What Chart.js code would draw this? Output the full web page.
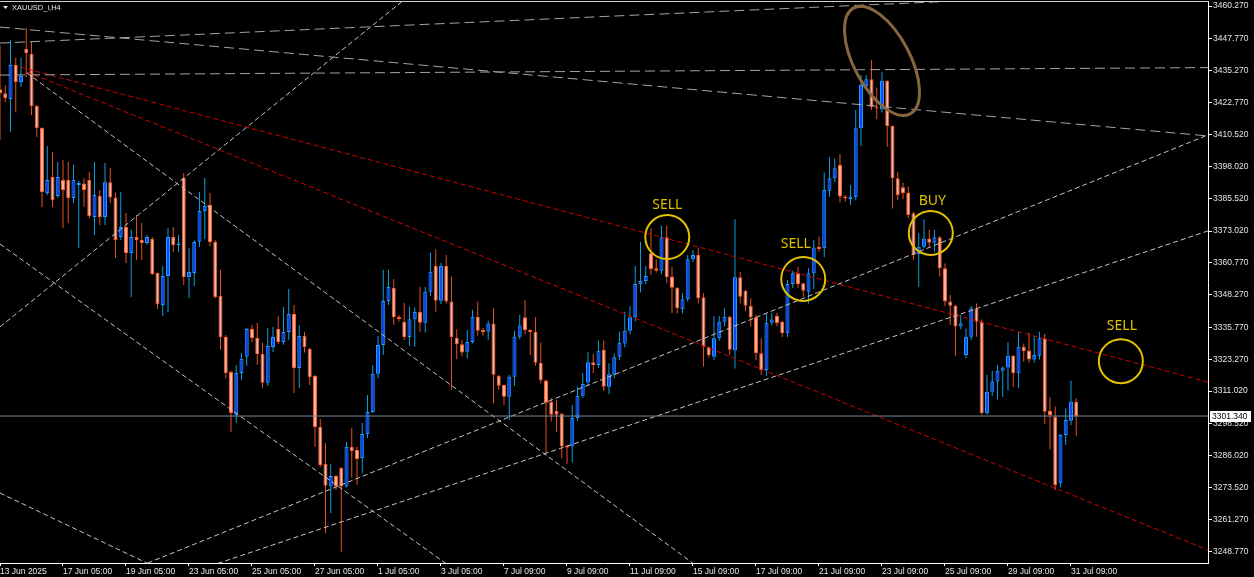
<!DOCTYPE html>
<html>
<head>
<meta charset="utf-8">
<title>XAUUSD_i,H4</title>
<script src="https://cdn.jsdelivr.net/npm/chart.js@4.4.1/dist/chart.umd.min.js"></script>
<style>
  html, body { margin: 0; padding: 0; background: #000; }
  #chart { display: block; }
</style>
</head>
<body>
<canvas id="chart" width="1254" height="577"></canvas>
<script>
// H4 candles, bar index 0 = 13 Jun 2025
const openPrices = [
  3428.0, 3426.5, 3424.2, 3437.4, 3430.8, 3443.6, 3441.7, 3421.5, 3413.0, 3387.8,
  3394.0, 3386.6, 3392.8, 3392.8, 3385.9, 3390.9, 3391.5, 3392.8, 3378.5, 3386.6,
  3378.5, 3392.0, 3386.0, 3370.7, 3374.6, 3364.5, 3370.7, 3369.6, 3368.4, 3370.0,
  3356.8, 3344.4, 3355.6, 3370.7, 3367.6, 3393.6, 3355.2, 3356.8, 3368.9, 3380.8,
  3383.2, 3368.8, 3347.9, 3332.0, 3318.4, 3301.8, 3318.0, 3324.3, 3335.1, 3331.6,
  3325.4, 3314.2, 3328.1, 3335.1, 3330.0, 3333.9, 3340.9, 3320.0, 3332.4, 3327.4,
  3316.9, 3297.1, 3282.8, 3274.0, 3278.1, 3281.2, 3274.0, 3289.4, 3288.2, 3285.1,
  3294.4, 3302.9, 3317.7, 3328.9, 3345.9, 3351.0, 3339.7, 3337.9, 3332.0, 3338.9,
  3341.7, 3337.5, 3349.5, 3359.5, 3346.0, 3359.5, 3345.7, 3331.7, 3329.2, 3326.3,
  3330.0, 3339.8, 3334.7, 3334.0, 3337.2, 3316.9, 3313.4, 3308.8, 3316.6, 3332.1,
  3339.6, 3334.7, 3334.0, 3322.0, 3315.1, 3306.8, 3303.3, 3302.2, 3289.7, 3289.5,
  3300.6, 3309.2, 3314.3, 3322.2, 3321.1, 3327.0, 3312.7, 3317.3, 3324.3, 3329.5,
  3334.4, 3339.6, 3352.5, 3353.7, 3364.4, 3358.6, 3357.7, 3370.6, 3355.4, 3351.1,
  3342.7, 3346.6, 3362.1, 3363.8, 3347.4, 3328.0, 3324.3, 3331.5, 3337.9, 3339.8,
  3326.7, 3355.1, 3349.9, 3344.0, 3339.6, 3325.7, 3319.2, 3337.5, 3340.1, 3337.9,
  3333.4, 3352.5, 3356.7, 3352.8, 3349.5, 3356.7, 3367.0, 3366.4, 3388.7, 3393.5,
  3398.6, 3386.4, 3385.5, 3386.1, 3412.9, 3429.3, 3431.9, 3421.0, 3420.2, 3431.3,
  3413.8, 3393.5, 3390.0, 3388.0, 3379.9, 3364.1, 3367.0, 3370.2, 3368.5, 3370.6,
  3358.6, 3345.7, 3344.1, 3336.0, 3325.0, 3332.1, 3343.1, 3337.9, 3302.4, 3310.8,
  3314.7, 3318.9, 3320.2, 3324.7, 3317.9, 3328.2, 3326.7, 3323.3, 3324.7, 3331.5,
  3303.4, 3301.1, 3275.3, 3294.0, 3299.5, 3306.9
];
const highPrices = [
  3445.0, 3429.6, 3447.1, 3440.1, 3440.1, 3451.7, 3446.3, 3421.8, 3413.3, 3406.0,
  3403.7, 3399.8, 3400.6, 3399.8, 3398.7, 3392.5, 3393.5, 3396.0, 3399.8, 3389.0,
  3399.4, 3397.5, 3388.0, 3388.2, 3380.0, 3373.5, 3379.3, 3376.2, 3371.5, 3370.7,
  3357.0, 3359.5, 3374.2, 3374.6, 3371.5, 3395.5, 3366.5, 3369.5, 3388.2, 3393.6,
  3387.8, 3369.6, 3358.0, 3332.8, 3319.0, 3321.0, 3325.8, 3335.5, 3336.6, 3337.4,
  3329.7, 3335.5, 3335.9, 3340.1, 3343.6, 3350.6, 3344.4, 3336.6, 3334.0, 3327.8,
  3317.3, 3300.2, 3290.9, 3282.8, 3278.5, 3281.6, 3291.3, 3296.7, 3289.4, 3298.7,
  3309.5, 3321.1, 3332.4, 3358.0, 3358.0, 3354.5, 3340.5, 3345.2, 3343.8, 3343.4,
  3351.4, 3351.4, 3364.6, 3366.0, 3360.8, 3363.8, 3355.4, 3335.0, 3330.8, 3334.7,
  3342.5, 3345.7, 3335.5, 3338.3, 3343.1, 3317.3, 3313.6, 3317.3, 3334.4, 3340.5,
  3346.3, 3335.0, 3339.6, 3329.8, 3315.4, 3308.3, 3307.6, 3302.6, 3290.0, 3305.6,
  3312.7, 3318.0, 3326.3, 3325.4, 3330.6, 3330.6, 3321.8, 3325.6, 3334.0, 3341.8,
  3344.0, 3359.5, 3368.9, 3359.5, 3374.1, 3362.0, 3375.1, 3375.1, 3359.2, 3351.4,
  3348.9, 3363.8, 3365.7, 3366.7, 3348.9, 3328.3, 3340.1, 3340.1, 3343.1, 3340.2,
  3377.6, 3357.3, 3350.2, 3347.0, 3340.5, 3331.5, 3341.2, 3341.2, 3341.4, 3338.2,
  3354.1, 3357.7, 3359.2, 3353.0, 3358.6, 3369.6, 3370.9, 3395.7, 3401.6, 3401.2,
  3402.9, 3387.0, 3390.9, 3420.0, 3433.5, 3433.5, 3439.3, 3428.7, 3434.8, 3431.7,
  3414.0, 3396.0, 3391.8, 3390.3, 3380.5, 3372.2, 3377.6, 3373.5, 3373.5, 3371.0,
  3360.5, 3348.3, 3344.5, 3340.5, 3335.3, 3344.0, 3345.0, 3338.8, 3317.3, 3318.9,
  3321.1, 3320.5, 3329.9, 3325.0, 3334.0, 3329.5, 3333.6, 3332.4, 3334.0, 3333.1,
  3308.6, 3305.0, 3294.3, 3304.4, 3315.0, 3308.2
];
const lowPrices = [
  3408.3, 3423.0, 3411.4, 3419.2, 3428.9, 3432.7, 3418.0, 3409.5, 3382.4, 3387.0,
  3382.4, 3385.9, 3374.2, 3376.2, 3384.0, 3366.5, 3382.5, 3378.0, 3371.5, 3375.4,
  3375.4, 3384.0, 3362.6, 3369.6, 3360.7, 3347.5, 3361.8, 3361.8, 3367.7, 3356.0,
  3342.8, 3340.1, 3341.7, 3364.9, 3364.9, 3352.1, 3347.1, 3351.7, 3367.0, 3370.0,
  3367.2, 3347.0, 3327.0, 3316.0, 3295.2, 3298.7, 3315.3, 3320.8, 3330.0, 3321.2,
  3312.2, 3313.0, 3326.2, 3329.3, 3329.0, 3330.8, 3310.3, 3312.2, 3326.0, 3313.4,
  3289.4, 3281.6, 3256.0, 3263.8, 3272.7, 3248.7, 3273.6, 3277.4, 3274.7, 3279.3,
  3292.8, 3302.5, 3316.0, 3325.0, 3344.4, 3336.6, 3338.0, 3330.8, 3328.5, 3328.2,
  3334.0, 3333.7, 3348.0, 3341.8, 3344.8, 3345.0, 3311.5, 3323.4, 3324.5, 3323.7,
  3329.5, 3332.5, 3332.5, 3330.8, 3306.3, 3311.5, 3305.6, 3299.8, 3313.0, 3331.0,
  3333.0, 3325.0, 3320.8, 3314.0, 3287.0, 3299.2, 3295.3, 3285.0, 3282.8, 3283.3,
  3299.5, 3308.3, 3313.2, 3317.9, 3320.0, 3311.0, 3309.9, 3316.0, 3323.0, 3328.0,
  3333.0, 3338.0, 3349.2, 3352.5, 3356.0, 3357.0, 3356.4, 3353.0, 3341.3, 3341.1,
  3341.1, 3345.7, 3361.0, 3345.0, 3320.5, 3324.0, 3323.0, 3330.5, 3336.0, 3325.0,
  3319.8, 3345.0, 3342.0, 3336.0, 3323.0, 3317.2, 3317.0, 3336.5, 3336.0, 3332.0,
  3331.9, 3351.0, 3351.0, 3347.6, 3345.0, 3350.5, 3365.0, 3362.9, 3386.3, 3392.0,
  3384.0, 3384.5, 3383.1, 3385.0, 3406.0, 3428.5, 3420.0, 3416.4, 3419.0, 3405.7,
  3381.8, 3385.0, 3385.5, 3378.0, 3361.8, 3351.5, 3366.4, 3367.0, 3365.0, 3355.4,
  3344.0, 3336.6, 3324.6, 3335.0, 3323.7, 3330.8, 3332.1, 3301.8, 3301.8, 3309.1,
  3307.8, 3308.8, 3311.2, 3312.7, 3312.1, 3322.4, 3322.0, 3322.0, 3323.3, 3298.3,
  3288.4, 3272.7, 3273.7, 3290.1, 3297.9, 3293.6
];
const closePrices = [
  3426.5, 3424.6, 3437.4, 3430.8, 3433.1, 3442.1, 3421.5, 3413.0, 3388.2, 3392.8,
  3385.1, 3394.0, 3389.0, 3385.9, 3392.8, 3391.7, 3389.0, 3378.9, 3387.0, 3378.5,
  3392.0, 3386.0, 3369.6, 3374.6, 3364.5, 3370.7, 3369.6, 3368.4, 3370.7, 3356.4,
  3344.8, 3355.6, 3370.7, 3367.6, 3368.2, 3355.2, 3357.2, 3368.8, 3380.8, 3382.8,
  3368.8, 3347.5, 3332.0, 3318.0, 3302.5, 3318.0, 3323.5, 3335.1, 3331.6, 3325.4,
  3314.2, 3328.5, 3332.0, 3330.0, 3333.9, 3340.9, 3320.0, 3332.4, 3328.1, 3316.5,
  3297.1, 3282.4, 3274.3, 3278.1, 3274.0, 3274.0, 3289.4, 3287.8, 3284.7, 3294.4,
  3302.9, 3317.7, 3328.9, 3345.9, 3351.4, 3339.7, 3339.0, 3332.0, 3338.9, 3341.7,
  3337.5, 3349.5, 3357.3, 3346.0, 3359.5, 3345.7, 3332.0, 3329.2, 3326.0, 3330.0,
  3339.8, 3334.4, 3333.8, 3337.2, 3317.3, 3313.1, 3308.8, 3316.6, 3332.1, 3336.4,
  3334.7, 3333.9, 3322.0, 3315.3, 3306.5, 3301.8, 3301.8, 3289.5, 3289.1, 3300.6,
  3309.2, 3313.8, 3322.2, 3321.1, 3326.6, 3312.7, 3317.5, 3324.1, 3329.7, 3334.4,
  3339.6, 3352.5, 3353.7, 3355.6, 3358.2, 3357.7, 3370.6, 3355.1, 3351.1, 3343.1,
  3346.6, 3362.1, 3363.8, 3347.0, 3328.2, 3325.0, 3331.5, 3337.9, 3339.8, 3327.0,
  3355.1, 3347.6, 3344.1, 3339.5, 3325.7, 3319.2, 3337.5, 3338.8, 3337.3, 3333.4,
  3352.5, 3356.7, 3352.5, 3349.9, 3356.7, 3366.7, 3366.1, 3389.0, 3393.5, 3397.4,
  3386.4, 3385.7, 3386.4, 3412.9, 3429.7, 3431.9, 3421.0, 3420.5, 3431.3, 3413.8,
  3393.5, 3387.0, 3387.7, 3379.3, 3363.8, 3367.0, 3370.2, 3368.5, 3370.6, 3358.6,
  3345.7, 3344.1, 3336.0, 3337.3, 3332.1, 3343.1, 3337.9, 3302.4, 3310.8, 3314.7,
  3318.9, 3320.2, 3324.7, 3317.9, 3328.2, 3326.5, 3323.3, 3325.0, 3331.5, 3303.0,
  3301.7, 3274.6, 3294.0, 3299.8, 3306.9, 3301.3
];

// axis labels
const dateTickBars = [0, 12, 24, 36, 48, 60, 72, 84, 96, 108, 120, 132, 144, 156, 168, 180, 192, 204];
const dateLabels = ['13 Jun 2025', '17 Jun 05:00', '19 Jun 05:00', '23 Jun 05:00', '25 Jun 05:00',
  '27 Jun 05:00', '1 Jul 05:00', '3 Jul 05:00', '7 Jul 09:00', '9 Jul 09:00', '11 Jul 09:00',
  '15 Jul 09:00', '17 Jul 09:00', '21 Jul 09:00', '23 Jul 09:00', '25 Jul 09:00', '29 Jul 09:00', '31 Jul 09:00'];
const priceTicks = [3460.27, 3447.77, 3435.27, 3422.77, 3410.52, 3398.02, 3385.52, 3373.02, 3360.77,
  3348.27, 3335.77, 3323.27, 3311.02, 3298.52, 3286.02, 3273.52, 3261.27, 3248.77];
const bidPrice = 3301.34;

// drawn lines, [bar, price] end points
const grayLines = [
  [[0, 3452.1], [230.1, 3409.9]],
  [[0, 3445.9], [230.1, 3466.5]],
  [[0, 3433.5], [230.1, 3436.4]]
];
const whiteLines = [
  [[0, 3335.9], [79.3, 3466.5]],
  [[5.14, 3434.3], [133.8, 3241.6]],
  [[0, 3368.0], [86.7, 3241.6]],
  [[0, 3271.5], [29.9, 3242.5]],
  [[26.7, 3243.2], [230.1, 3410.3]],
  [[40.0, 3243.2], [230.1, 3373.1]]
];
const redLines = [
  [[3.81, 3436.6], [230.1, 3314.5]],
  [[5.14, 3434.7], [230.1, 3249.4]]
];

// signal markers
const signalWords = ['SELL', 'SELL', 'BUY', 'SELL'];
const signalBars = [127.1, 153.0, 177.3, 213.5];
const signalPrices = [3370.7, 3354.5, 3372.3, 3322.6];
const signalWordBars = [127.1, 151.6, 177.6, 213.7];
const signalWordPrices = [3383.1, 3368.0, 3384.7, 3336.2];
const topEllipse = [168.0, 3439.0];

const isUp = openPrices.map((o, i) => closePrices[i] >= o);

function trendLine(points, color, dash) {
  return {
    type: 'line',
    data: points.map(p => ({ x: p[0], y: p[1] })),
    borderColor: color,
    borderWidth: 1,
    borderDash: dash,
    pointRadius: 0,
    fill: false,
    order: 1
  };
}

const datasets = [
  {
    // wicks
    data: openPrices.map((o, i) => ({ x: i, y: [lowPrices[i], highPrices[i]] })),
    backgroundColor: isUp.map(u => u ? '#0a9fe0' : '#e2521f'),
    borderWidth: 0,
    barThickness: 1,
    grouped: false,
    inflateAmount: 0,
    order: 3
  },
  {
    // bodies
    data: openPrices.map((o, i) => ({ x: i, y: [o, closePrices[i]] })),
    backgroundColor: isUp.map(u => u ? '#1248f5' : '#ffb4a2'),
    borderColor: isUp.map(u => u ? '#1e9cff' : '#ff5a26'),
    borderWidth: 1,
    borderSkipped: false,
    barThickness: 4,
    minBarLength: 1,
    grouped: false,
    inflateAmount: 0,
    order: 2
  },
  {
    type: 'line',
    data: [{ x: 0, y: bidPrice }, { x: 230.1, y: bidPrice }],
    borderColor: '#788a9c',
    borderWidth: 1,
    pointRadius: 0,
    order: 1
  }
];
grayLines.forEach(l => datasets.push(trendLine(l, '#a4a4a4', [10, 5])));
whiteLines.forEach(l => datasets.push(trendLine(l, '#c4c4c4', [5, 3])));
redLines.forEach(l => datasets.push(trendLine(l, '#d00000', [5, 3])));
datasets.push({
  type: 'line',
  data: signalBars.map((b, i) => ({ x: b, y: signalPrices[i] })),
  showLine: false,
  pointRadius: 22,
  pointBorderWidth: 2,
  pointBorderColor: '#e2c200',
  pointBackgroundColor: 'rgba(0,0,0,0)',
  order: 0
});

const axisFont = { family: 'Liberation Sans', size: 8.5 };

const chartFrame = {
  id: 'chartFrame',
  beforeDraw(chart) {
    const ctx = chart.ctx;
    ctx.save();
    ctx.fillStyle = '#000';
    ctx.fillRect(0, 0, chart.width, chart.height);
    ctx.restore();
  },
  afterDatasetsDraw(chart) {
    const { ctx, chartArea: a, scales: { x, y } } = chart;
    ctx.save();
    ctx.beginPath();
    ctx.rect(a.left, a.top, a.right - a.left, a.bottom - a.top);
    ctx.clip();
    // brown ellipse round the top
    ctx.strokeStyle = '#86673d';
    ctx.lineWidth = 3;
    ctx.beginPath();
    ctx.ellipse(x.getPixelForValue(topEllipse[0]), y.getPixelForValue(topEllipse[1]), 60, 28, 62 * Math.PI / 180, 0, 2 * Math.PI);
    ctx.stroke();
    // SELL / BUY words
    ctx.fillStyle = '#e0c000';
    ctx.font = '14px "Noto Sans"';
    ctx.textAlign = 'center';
    ctx.textBaseline = 'middle';
    signalWords.forEach((w, i) => {
      ctx.fillText(w, x.getPixelForValue(signalWordBars[i]), y.getPixelForValue(signalWordPrices[i]));
    });
    ctx.restore();
  },
  afterDraw(chart) {
    const { ctx, chartArea: a, scales: { y } } = chart;
    ctx.save();
    // top border
    ctx.fillStyle = '#cfcfcf';
    ctx.fillRect(0, 1, a.right + 1, 1);
    // symbol caption
    ctx.fillStyle = '#e8e8e8';
    ctx.beginPath();
    ctx.moveTo(3, 6); ctx.lineTo(8, 6); ctx.lineTo(5.5, 9); ctx.closePath();
    ctx.fill();
    ctx.font = '7.5px "Liberation Sans"';
    ctx.textBaseline = 'middle';
    ctx.fillText('XAUUSD_i,H4', 12, 7.5);
    // bid price tag
    const py = Math.round(y.getPixelForValue(bidPrice));
    ctx.fillStyle = '#ffffff';
    ctx.fillRect(a.right + 2, py - 5, 41, 11);
    ctx.fillStyle = '#000000';
    ctx.font = '8.5px "Liberation Sans"';
    ctx.fillText(bidPrice.toFixed(3), a.right + 4, py + 0.5);
    ctx.restore();
  }
};

new Chart(document.getElementById('chart'), {
  type: 'bar',
  data: { datasets: datasets },
  options: {
    responsive: false,
    animation: false,
    events: [],
    layout: { autoPadding: false, padding: { left: 0, top: 1, right: 0, bottom: 0 } },
    plugins: { legend: { display: false }, tooltip: { enabled: false } },
    scales: {
      x: {
        type: 'linear',
        position: 'bottom',
        min: 0,
        max: 230.1,
        offset: false,
        grid: { drawOnChartArea: false, tickLength: 3, color: '#ffffff', offset: false },
        border: { display: true, color: '#ffffff', width: 1 },
        ticks: {
          autoSkip: false, maxRotation: 0, minRotation: 0, align: 'start', padding: 1,
          color: '#e6e6e6', font: axisFont,
          callback: (v, i) => dateLabels[i]
        },
        afterBuildTicks: s => { s.ticks = dateTickBars.map(v => ({ value: v })); },
        afterFit: s => { s.height = 14; s.paddingLeft = 0; s.paddingRight = 0; }
      },
      y: {
        type: 'linear',
        position: 'right',
        min: 3244.38,
        max: 3462.21,
        beginAtZero: false,
        grid: { drawOnChartArea: false, tickLength: 4, color: '#ffffff' },
        border: { display: true, color: '#ffffff', width: 1 },
        ticks: {
          autoSkip: false, padding: 1, color: '#e6e6e6', font: axisFont,
          callback: v => v.toFixed(3)
        },
        afterBuildTicks: s => { s.ticks = priceTicks.map(v => ({ value: v })); },
        afterFit: s => { s.width = 46; s.paddingTop = 0; s.paddingBottom = 0; }
      }
    }
  },
  plugins: [chartFrame]
});
</script>
</body>
</html>
